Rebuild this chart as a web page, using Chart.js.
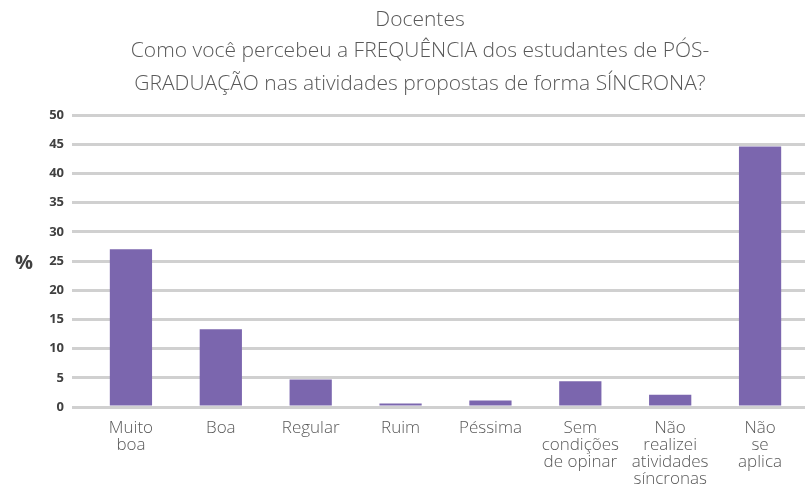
<!DOCTYPE html>
<html>
<head>
<meta charset="utf-8">
<script src="https://cdn.jsdelivr.net/npm/chart.js@4/dist/chart.umd.min.js"></script>
<style>
  html, body { margin: 0; padding: 0; background: #fff; }
  #grafico { width: 805px; height: 486px; }
</style>
</head>
<body>
<div id="grafico"><canvas id="cuadro"></canvas></div>
<script>
const categorias = [
  ["Muito", "boa"],
  "Boa",
  "Regular",
  "Ruim",
  "Péssima",
  ["Sem", "condições", "de opinar"],
  ["Não", "realizei", "atividades", "síncronas"],
  ["Não", "se", "aplica"]
];
const porcentajes = [27, 13.3, 4.7, 0.6, 1.1, 4.4, 2.1, 44.6];
const titulo = [
  "Docentes",
  "Como você percebeu a FREQUÊNCIA dos estudantes de PÓS-",
  "GRADUAÇÃO nas atividades propostas de forma SÍNCRONA?"
];

// titulo y "%" dibujados a mano para ubicarlos como en la imagen
const textos = {
  id: 'textos',
  afterDraw(chart) {
    const ctx = chart.ctx;
    ctx.save();
    ctx.fillStyle = '#595959';
    ctx.font = '300 21px "Open Sans"';
    ctx.textAlign = 'center';
    ctx.textBaseline = 'middle';
    const ys = [20, 51, 84];
    titulo.forEach((t, i) => ctx.fillText(t, 420, ys[i]));
    ctx.fillStyle = '#404040';
    ctx.font = 'bold 20px "Open Sans"';
    ctx.fillText('%', 24, 263);
    ctx.restore();
  }
};

const cuadro = document.querySelector("#cuadro");
new Chart(cuadro, {
  type: 'bar',
  data: {
    labels: categorias,
    datasets: [{ data: porcentajes, backgroundColor: '#7b66ae', categoryPercentage: 1, barPercentage: 0.47 }]
  },
  options: {
    responsive: true,
    maintainAspectRatio: false,
    animation: false,
    layout: { padding: { top: 115, left: 0, right: 0, bottom: 0 } },
    plugins: { legend: { display: false }, tooltip: { enabled: false } },
    scales: {
      y: {
        min: 0, max: 50,
        ticks: { stepSize: 5, color: '#404040', font: { family: 'Open Sans', size: 13, weight: 'bold' }, padding: 8 },
        grid: { color: '#d0d0d0', lineWidth: 3, tickLength: 14, tickColor: '#d0d0d0' },
        border: { display: false },
        afterFit: (s) => { s.width = 86; }
      },
      x: {
        ticks: { color: '#595959', font: { family: 'Open Sans', size: 17, weight: 300, lineHeight: 1 }, padding: 5, maxRotation: 0, autoSkip: false },
        grid: { display: false },
        border: { display: false },
        afterFit: (s) => { s.height = 79; }
      }
    }
  },
  plugins: [textos]
});
</script>
</body>
</html>
